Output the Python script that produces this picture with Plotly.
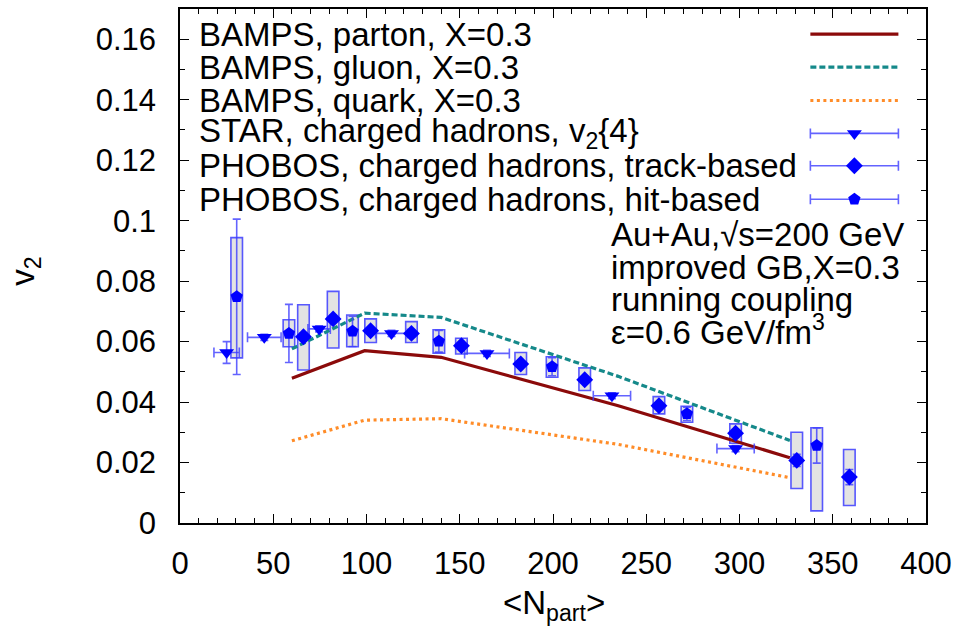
import plotly.graph_objects as go

# ---------------- data ----------------
# BAMPS transport results (v2 vs <N_part>)
bamps_npart = [60, 99, 140, 235, 327]
bamps_parton = [0.0479, 0.0570, 0.0548, 0.0388, 0.0216]
bamps_gluon = [0.0576, 0.0694, 0.0680, 0.0485, 0.0273]
bamps_quark = [0.0272, 0.0340, 0.0345, 0.0260, 0.0150]

# STAR charged hadrons, v2{4}
star_npart = [25.0, 45.2, 74.6, 113.4, 164.6, 231.6, 297.9]
star_v2 = [0.0564, 0.0614, 0.0642, 0.0627, 0.0561, 0.0421, 0.0246]
star_xerr = [6.8, 9.0, 6.0, 8.5, 12.0, 10.0, 10.0]
star_yerr = [0.0036, 0.0010, 0.0010, 0.0010, 0.0010, 0.0010, 0.0010]

# PHOBOS charged hadrons, track-based
trk_npart = [66.2, 82.1, 102.2, 124.1, 150.9, 182.7, 217.0, 256.8, 297.9, 330.7, 358.9]
trk_v2 = [0.0616, 0.0675, 0.0636, 0.0627, 0.0586, 0.0526, 0.0474, 0.0388, 0.0297, 0.0207, 0.0152]
trk_stat = [0.0012, 0.0012, 0.0010, 0.0010, 0.0010, 0.0010, 0.0010, 0.0010, 0.0012, 0.0020, 0.0025]
trk_sys_lo = [0.0506, 0.0579, 0.0597, 0.0597, 0.0559, 0.0491, 0.0438, 0.0361, 0.0264, 0.0114, 0.0058]
trk_sys_hi = [0.0722, 0.0766, 0.0675, 0.0666, 0.0611, 0.0564, 0.0513, 0.0418, 0.0328, 0.0300, 0.0243]

# PHOBOS charged hadrons, hit-based
hit_npart = [30.4, 58.4, 92.5, 138.8, 199.5, 271.8, 341.4]
hit_v2 = [0.0748, 0.0627, 0.0634, 0.0601, 0.0517, 0.0361, 0.0256]
hit_stat = [0.0257, 0.0096, 0.0050, 0.0036, 0.0030, 0.0022, 0.0058]
hit_sys_lo = [0.0546, 0.0583, 0.0583, 0.0562, 0.0482, 0.0333, 0.0040]
hit_sys_hi = [0.0944, 0.0672, 0.0688, 0.0639, 0.0550, 0.0386, 0.0315]

x_tickvals = [0, 50, 100, 150, 200, 250, 300, 350, 400]
x_ticktext = ["0", "50", "100", "150", "200", "250", "300", "350", "400"]
y_tickvals = [0, 0.02, 0.04, 0.06, 0.08, 0.10, 0.12, 0.14, 0.16]
y_ticktext = ["0", "0.02", "0.04", "0.06", "0.08", "0.1", "0.12", "0.14", "0.16"]

legend_labels = [
    "BAMPS, parton, X=0.3",
    "BAMPS, gluon, X=0.3",
    "BAMPS, quark, X=0.3",
    "STAR, charged hadrons, v<sub>2</sub>{4}",
    "PHOBOS, charged hadrons, track-based",
    "PHOBOS, charged hadrons, hit-based",
]
info_lines = [
    "Au+Au,√s=200 GeV",
    "improved GB,X=0.3",
    "running coupling",
    "ε=0.6 GeV/fm<sup>3</sup>",
]

# ---------------- styles ----------------
FONT = "Liberation Sans, Arial, Helvetica, sans-serif"
FS_TICK = 31
FS_TEXT = 33
RED = "#8b0a0a"
TEAL = "#15898a"
ORANGE = "#ff8c28"
BLUE = "#0000ff"
ERR = "rgba(60,60,255,0.8)"
BOXFILL = "#e3e3e3"
BOXLINE = "rgba(60,60,255,0.85)"
GLUON_DASH = "6px,3px"
QUARK_DASH = "3px,3.5px"

fig = go.Figure()

# systematic boxes (PHOBOS)
for xs, lo, hi in [(trk_npart, trk_sys_lo, trk_sys_hi), (hit_npart, hit_sys_lo, hit_sys_hi)]:
    fig.add_trace(go.Bar(
        x=xs, base=lo, y=[h - l for h, l in zip(hi, lo)], width=6.2,
        marker=dict(color=BOXFILL, line=dict(color=BOXLINE, width=1.6)),
        showlegend=False, hoverinfo="skip",
    ))

# BAMPS curves
fig.add_trace(go.Scatter(x=bamps_npart, y=bamps_parton, mode="lines",
                         line=dict(color=RED, width=3.2), showlegend=False))
fig.add_trace(go.Scatter(x=bamps_npart, y=bamps_gluon, mode="lines",
                         line=dict(color=TEAL, width=3.2, dash=GLUON_DASH), showlegend=False))
fig.add_trace(go.Scatter(x=bamps_npart, y=bamps_quark, mode="lines",
                         line=dict(color=ORANGE, width=3.2, dash=QUARK_DASH), showlegend=False))

# STAR
fig.add_trace(go.Scatter(
    x=star_npart, y=star_v2, mode="markers",
    marker=dict(symbol="triangle-down", size=13, color=BLUE),
    error_x=dict(type="data", array=star_xerr, color=ERR, thickness=1.6, width=5),
    error_y=dict(type="data", array=star_yerr, color=ERR, thickness=1.6, width=4),
    showlegend=False))

# PHOBOS track-based
fig.add_trace(go.Scatter(
    x=trk_npart, y=trk_v2, mode="markers",
    marker=dict(symbol="diamond", size=13, color=BLUE),
    error_y=dict(type="data", array=trk_stat, color=ERR, thickness=1.6, width=4),
    showlegend=False))

# PHOBOS hit-based
fig.add_trace(go.Scatter(
    x=hit_npart, y=hit_v2, mode="markers",
    marker=dict(symbol="pentagon", size=13, color=BLUE),
    error_y=dict(type="data", array=hit_stat, color=ERR, thickness=1.6, width=4),
    showlegend=False))

# ---------------- key (text left, samples right) ----------------
key_rows = [0.951, 0.887, 0.822, 0.758, 0.695, 0.630]
key_x0, key_x1, key_xm = 0.845, 0.963, 0.904
key_lines = [dict(color=RED, width=3.2),
             dict(color=TEAL, width=3.2, dash=GLUON_DASH),
             dict(color=ORANGE, width=3.2, dash=QUARK_DASH)]
for yr, ln in zip(key_rows[:3], key_lines):
    fig.add_trace(go.Scatter(x=[key_x0, key_x1], y=[yr, yr], mode="lines", line=ln,
                             xaxis="x2", yaxis="y2", showlegend=False, hoverinfo="skip"))
for yr, sym in zip(key_rows[3:], ["triangle-down", "diamond", "pentagon"]):
    fig.add_trace(go.Scatter(
        x=[key_xm], y=[yr], mode="markers",
        marker=dict(symbol=sym, size=13, color=BLUE),
        error_x=dict(type="data", array=[key_x1 - key_xm], color=ERR, thickness=1.6, width=5),
        xaxis="x2", yaxis="y2", showlegend=False, hoverinfo="skip"))

annotations = []
for yr, txt in zip(key_rows, legend_labels):
    annotations.append(dict(x=0.0227, y=yr, xref="paper", yref="paper", text=txt,
                            showarrow=False, xanchor="left", yanchor="middle",
                            font=dict(family=FONT, size=FS_TEXT, color="black")))
for yr, txt in zip([0.5615, 0.4975, 0.4355, 0.3755], info_lines):
    annotations.append(dict(x=0.575, y=yr, xref="paper", yref="paper", text=txt,
                            showarrow=False, xanchor="left", yanchor="middle",
                            font=dict(family=FONT, size=FS_TEXT, color="black")))
# axis titles
annotations.append(dict(x=-0.207, y=0.49, xref="paper", yref="paper", text="v<sub>2</sub>",
                        textangle=-90, showarrow=False, xanchor="center", yanchor="middle",
                        font=dict(family=FONT, size=FS_TEXT, color="black")))
annotations.append(dict(x=0.5015, y=-0.16, xref="paper", yref="paper",
                        text="&lt;N<sub>part</sub>&gt;", showarrow=False,
                        xanchor="center", yanchor="middle",
                        font=dict(family=FONT, size=FS_TEXT, color="black")))

axis_common = dict(showline=True, linecolor="black", linewidth=1.5, mirror="allticks",
                   ticks="inside", tickcolor="black", tickwidth=1.2, ticklen=9,
                   showgrid=False, zeroline=False,
                   tickfont=dict(family=FONT, size=FS_TICK, color="black"))

fig.update_layout(
    width=959, height=630,
    margin=dict(l=180, r=31, t=7, b=107),
    paper_bgcolor="white", plot_bgcolor="white",
    barmode="overlay",
    showlegend=False,
    annotations=annotations,
    xaxis=dict(range=[0, 400], tickvals=x_tickvals, ticktext=x_ticktext,
               minor=dict(ticks="inside", ticklen=5, dtick=10, tickcolor="black", tickwidth=1.2),
               ticklabelstandoff=12, **axis_common),
    yaxis=dict(range=[0, 0.17], tickvals=y_tickvals, ticktext=y_ticktext,
               minor=dict(ticks="inside", ticklen=5, dtick=0.01, tickcolor="black", tickwidth=1.2),
               ticklabelstandoff=16, **axis_common),
    xaxis2=dict(range=[0, 1], overlaying="x", visible=False, fixedrange=True),
    yaxis2=dict(range=[0, 1], overlaying="y", visible=False, fixedrange=True),
)

fig.write_html("out.html")
